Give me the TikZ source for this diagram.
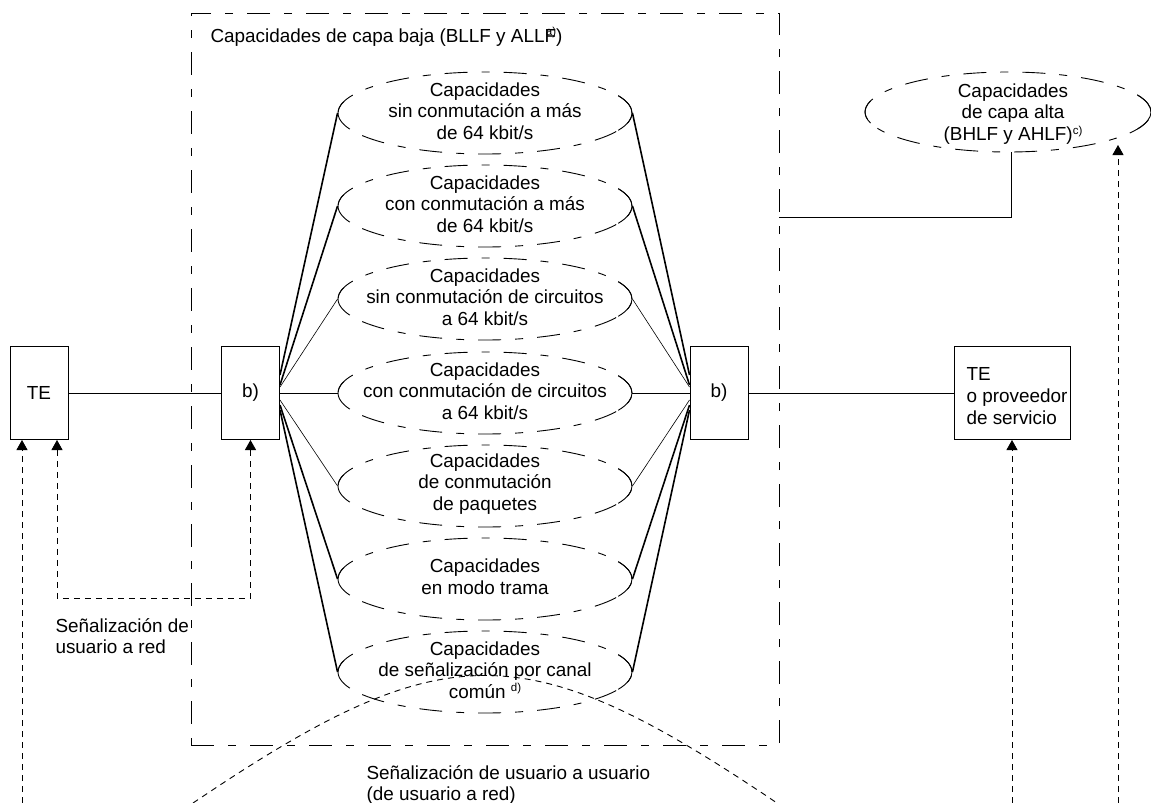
\documentclass[tikz,border=0pt]{standalone}
\usepackage{fontspec}
\setmainfont{Liberation Sans}
\usetikzlibrary{arrows.meta,calc,shapes.geometric}

\newcommand{\supnote}[1]{\raisebox{6.5pt}{\fontsize{11.5}{12}\selectfont #1}}

\begin{document}
\begin{tikzpicture}[x=1pt,y=-1pt,line width=1pt,
  txt/.style={font=\fontsize{18.9}{21.7}\selectfont,inner sep=0pt,align=center},
  unitbox/.style={draw,minimum width=58pt,minimum height=93pt,inner sep=0pt,
                  font=\fontsize{18.9}{21.7}\selectfont},
  dashdot/.style={dash pattern=on 23pt off 14pt on 8pt off 14pt},
  capell/.style={draw,ellipse,dashdot,minimum width=294pt,minimum height=82pt,
                 inner sep=0pt,line width=0.9pt},
  endarc/.style={solid,line width=0.9pt},
  fanthick/.style={line width=1.6pt},
  fanthin/.style={line width=0.6pt},
  sigline/.style={dash pattern=on 6pt off 5pt,line width=0.9pt},
  sig/.style={sigline,-{Triangle[length=10pt,width=11pt]}},
  sigboth/.style={sigline,{Triangle[length=10pt,width=11pt]}-{Triangle[length=10pt,width=11pt]}},
]
\useasboundingbox (0,0) rectangle (1151,803);

% lower layer functions frame
\node[draw,dashdot,minimum width=588pt,minimum height=732pt,inner sep=0pt] (llf) at (485,379) {};
\node[txt,anchor=base west] (llft) at (210,42)
  {Capacidades de capa baja (BLLF y ALLF\llap{\supnote{a)}})};

% terminal equipment and interworking boxes
\node[unitbox] (TE) at (39,393) {TE};
\node[unitbox] (bL) at (250.5,393) {b)};
\node[unitbox] (bR) at (719,393) {b)};
\node[unitbox,minimum width=116pt] (TE2) at (1012,393) {};
\node[txt,align=left,anchor=west] (TE2t) at (966,396) {TE\\o proveedor\\de servicio};

% bearer capability ellipses
\foreach \n/\yc/\t in {
  e1/113/{Capacidades\\sin conmutación a más\\de 64 kbit/s},
  e2/206/{Capacidades\\con conmutación a más\\de 64 kbit/s},
  e3/299/{Capacidades\\sin conmutación de circuitos\\a 64 kbit/s},
  e4/393/{Capacidades\\con conmutación de circuitos\\a 64 kbit/s},
  e5/486/{Capacidades\\de conmutación\\de paquetes},
  e6/579/{Capacidades\\en modo trama},
  e7/672/{Capacidades\\de señalización por canal\\común \supnote{d)}}}{
  \node[capell] (\n) at (485,\yc) {};
  \node[txt] (\n t) at (485,\yc-2) {\t};
  \draw[endarc] ($(\n.center)+(164:147 and 41)$) arc[start angle=164,end angle=196,x radius=147,y radius=41];
  \draw[endarc] ($(\n.center)+(-25:147 and 41)$) arc[start angle=-25,end angle=25,x radius=147,y radius=41];
}

% higher layer functions
\node[capell,minimum width=286pt,minimum height=80pt] (hlf) at (1008,112) {};
\node[txt] (hlft) at (1013,114) {Capacidades\\de capa alta\\(BHLF y AHLF)\supnote{c)}};
\draw[endarc] ($(hlf.center)+(164:143 and 40)$) arc[start angle=164,end angle=196,x radius=143,y radius=40];
\draw[endarc] ($(hlf.center)+(-25:143 and 40)$) arc[start angle=-25,end angle=25,x radius=143,y radius=40];
\coordinate (hlfjoin) at (779,217);
\draw ([xshift=3pt]hlf.south) |- (hlfjoin);

% main connections
\draw (TE.east) -- (bL.west);
\draw (bR.east) -- (TE2.west);
\draw (bL.east) -- (e4.west);
\draw (e4.east) -- (bR.west);
\foreach \e/\s/\w in {e1/18/fanthick,e2/8/fanthick,e3/6/fanthin,e5/-7/fanthin,e6/-12/fanthick,e7/-17/fanthick}{
  \draw[\w] ([yshift=\s pt]bL.east) -- (\e.west);
  \draw[\w] ([yshift=\s pt]bR.west) -- (\e.east);
}

% signalling paths
\coordinate (f1) at (22,803);
\coordinate (f2) at (1012,803);
\coordinate (f3) at (1118,803);
\coordinate (hlftip) at (1118,145);
\coordinate (loopc) at (57,598);
\draw[sig] (f1) -- (f1 |- TE.south);
\draw[sigboth] ([xshift=18pt]TE.south) -- ([xshift=18pt]TE.south |- loopc) -| (bL.south);
\draw[sig] (f2) -- (TE2.south);
\draw[sig] (f3) -- (hlftip);
\node[txt,align=left,anchor=west] (unr) at (55,636) {Señalización de\\usuario a red};

% user-to-user signalling
\coordinate (uuL) at (193,803);
\coordinate (uuR) at (777,803);
\draw[sigline] (uuL) .. controls (445,633) and (525,633) .. (uuR);
\node[txt,align=left,anchor=west] (uut) at (366,785) {Señalización de usuario a usuario\\(de usuario a red)};
\end{tikzpicture}
\end{document}
